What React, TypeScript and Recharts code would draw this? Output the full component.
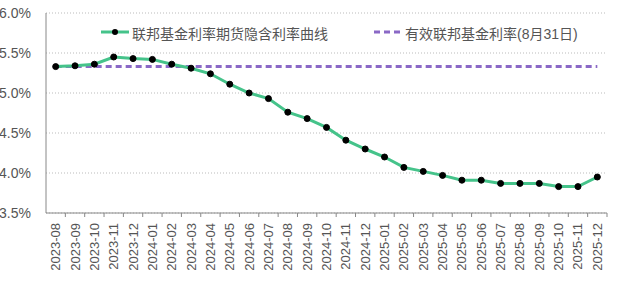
import React from 'react';
import {
  LineChart,
  Line,
  XAxis,
  YAxis,
  CartesianGrid,
  ReferenceLine,
} from 'recharts';

const months = [
  '2023-08', '2023-09', '2023-10', '2023-11', '2023-12',
  '2024-01', '2024-02', '2024-03', '2024-04', '2024-05', '2024-06',
  '2024-07', '2024-08', '2024-09', '2024-10', '2024-11', '2024-12',
  '2025-01', '2025-02', '2025-03', '2025-04', '2025-05', '2025-06',
  '2025-07', '2025-08', '2025-09', '2025-10', '2025-11', '2025-12',
];

const impliedRate = [
  5.33, 5.34, 5.36, 5.45, 5.43, 5.42, 5.36, 5.31, 5.24, 5.11, 5.0,
  4.93, 4.76, 4.68, 4.57, 4.41, 4.3, 4.2, 4.07, 4.02, 3.97, 3.91, 3.91,
  3.87, 3.87, 3.87, 3.83, 3.83, 3.95,
];

const effr = 5.33;
const yTicks = [3.5, 4.0, 4.5, 5.0, 5.5, 6.0];

const seriesName = '联邦基金利率期货隐含利率曲线';
const effrName = '有效联邦基金利率(8月31日)';

const data = months.map((m, i) => ({ month: m, implied: impliedRate[i] }));

const W = 640;
const H = 298;
const PLOT_LEFT = 46;
const PLOT_RIGHT = 607;
const BAND = (PLOT_RIGHT - PLOT_LEFT) / months.length;
const GREEN = '#45c38a';
const PURPLE = '#8a68c6';
const TEXT = '#555';
const FONT = 'Arial, "Liberation Sans", "Noto Sans CJK SC", sans-serif';

const MonthTick = (props: any) => {
  const { x, y, payload } = props;
  return (
    <g>
      <line x1={x + BAND / 2} x2={x + BAND / 2} y1={y} y2={y + 4} stroke="#888" />
      <text
        x={0}
        y={0}
        transform={`translate(${x},${y + 10}) rotate(-90)`}
        textAnchor="end"
        dominantBaseline="central"
        fontSize={13}
        fill={TEXT}
        fontFamily={FONT}
      >
        {payload.value}
      </text>
    </g>
  );
};

const LegendBox = () => (
  <div
    style={{
      position: 'absolute',
      left: 0,
      top: 24,
      width: W,
      height: 20,
      fontFamily: FONT,
      fontSize: 14,
      color: TEXT,
      pointerEvents: 'none',
    }}
  >
    <svg width={30} height={10} style={{ position: 'absolute', left: 101, top: 3 }}>
      <line x1={0} x2={28} y1={5} y2={5} stroke={GREEN} strokeWidth={3} />
      <circle cx={14} cy={5} r={3} fill="#000" />
    </svg>
    <span style={{ position: 'absolute', left: 132, top: -1, whiteSpace: 'nowrap' }}>{seriesName}</span>
    <svg width={28} height={10} style={{ position: 'absolute', left: 374, top: 3 }}>
      <line x1={0} x2={26} y1={5} y2={5} stroke={PURPLE} strokeWidth={3} strokeDasharray="6 4" />
    </svg>
    <span style={{ position: 'absolute', left: 405, top: -1, whiteSpace: 'nowrap' }}>{effrName}</span>
  </div>
);

export default function App() {
  return (
    <div style={{ position: 'absolute', left: 0, top: 0, width: W, height: H, background: '#fff' }}>
      <LineChart
        width={W}
        height={H}
        data={data}
        margin={{ top: 13, right: W - PLOT_RIGHT, left: 0, bottom: 0 }}
      >
        <CartesianGrid vertical={false} stroke="#bbb" strokeDasharray="1 2" />
        <XAxis
          dataKey="month"
          interval={0}
          height={85}
          tickSize={0}
          tickMargin={0}
          tickLine={false}
          padding={{ left: BAND / 2, right: BAND / 2 }}
          axisLine={{ stroke: '#888' }}
          tick={<MonthTick />}
        />
        <YAxis
          domain={[3.5, 6.0]}
          ticks={yTicks}
          width={PLOT_LEFT}
          tickLine={false}
          axisLine={{ stroke: '#888' }}
          tickFormatter={(v: number) => `${v.toFixed(1)}%`}
          tick={{ fontSize: 14, fill: TEXT, fontFamily: FONT }}
          tickMargin={9}
        />
        <ReferenceLine
          segment={[
            { x: months[0], y: effr },
            { x: months[months.length - 1], y: effr },
          ]}
          stroke={PURPLE}
          strokeWidth={3}
          strokeDasharray="6 4"
          ifOverflow="visible"
        />
        <Line
          type="linear"
          dataKey="implied"
          name={seriesName}
          stroke={GREEN}
          strokeWidth={3}
          dot={{ r: 3, fill: '#000', stroke: '#000', strokeWidth: 1 }}
          isAnimationActive={false}
        />
      </LineChart>
      <LegendBox />
    </div>
  );
}
